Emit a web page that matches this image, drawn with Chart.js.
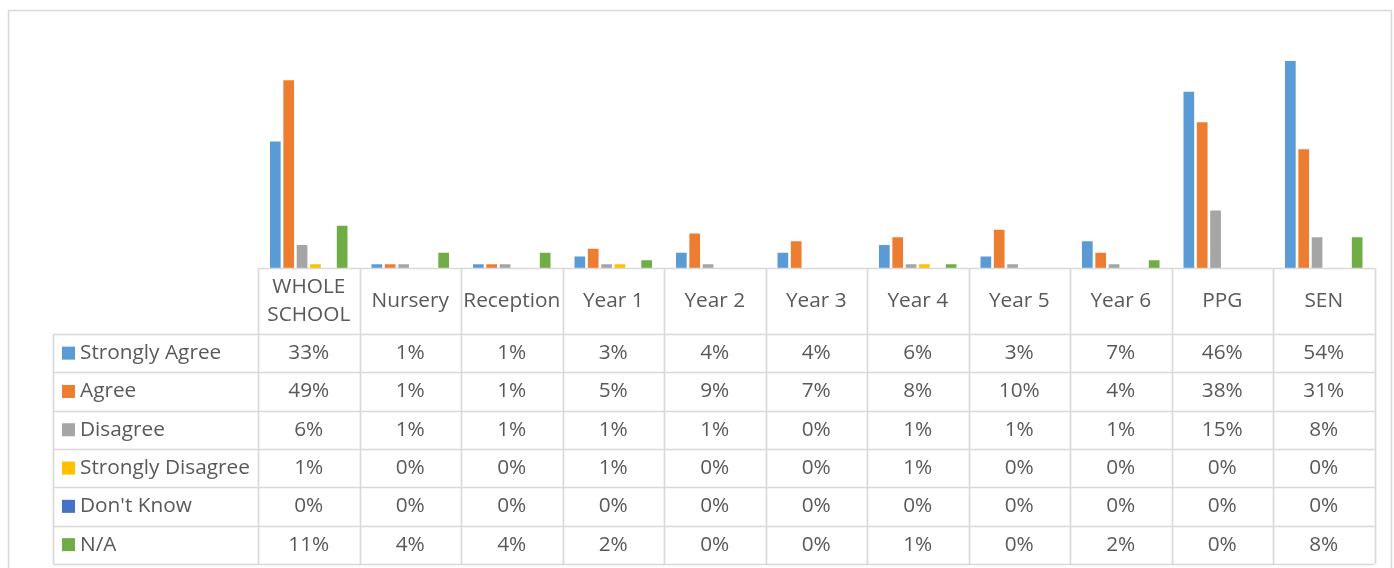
<!DOCTYPE html>
<html>
<head>
<meta charset="utf-8">
<script src="https://cdn.jsdelivr.net/npm/chart.js@4/dist/chart.umd.min.js"></script>
<style>
  html, body { margin: 0; padding: 0; background: #fff; }
  #wrap { width: 1394px; height: 568px; position: relative; }
</style>
</head>
<body>
<div id="wrap"><canvas id="chart" width="1394" height="568"></canvas></div>
<script>
const categories = ['WHOLE SCHOOL', 'Nursery', 'Reception', 'Year 1', 'Year 2', 'Year 3', 'Year 4', 'Year 5', 'Year 6', 'PPG', 'SEN'];
const seriesNames = ['Strongly Agree', 'Agree', 'Disagree', 'Strongly Disagree', "Don't Know", 'N/A'];
const stronglyAgree = [33, 1, 1, 3, 4, 4, 6, 3, 7, 46, 54];
const agree = [49, 1, 1, 5, 9, 7, 8, 10, 4, 38, 31];
const disagree = [6, 1, 1, 1, 1, 0, 1, 1, 1, 15, 8];
const stronglyDisagree = [1, 0, 0, 1, 0, 0, 1, 0, 0, 0, 0];
const dontKnow = [0, 0, 0, 0, 0, 0, 0, 0, 0, 0, 0];
const notApplicable = [11, 4, 4, 2, 0, 0, 1, 0, 2, 0, 8];

const seriesValues = [stronglyAgree, agree, disagree, stronglyDisagree, dontKnow, notApplicable];
const seriesColors = ['#5B9BD5', '#ED7D31', '#A5A5A5', '#FFC000', '#4472C4', '#70AD47'];

const FONT = '20.8px "Open Sans", sans-serif';
const TEXT = '#595959';
const GRID = '#d9d9d9';

// Draws the Excel-style data table under the plot, aligned to the x scale
const dataTable = {
    id: 'dataTable',
    afterDraw(chart) {
        const ctx = chart.ctx;
        const area = chart.chartArea;
        const x = chart.scales.x;
        const colW = (area.right - area.left) / categories.length;
        const tableLeft = 53;
        const headerTop = area.bottom;
        const headerBottom = area.bottom + 66;
        const rowH = 38.3;
        const tableBottom = headerBottom + rowH * seriesNames.length;

        ctx.save();
        // outer chart frame
        ctx.strokeStyle = GRID;
        ctx.lineWidth = 1.5;
        ctx.strokeRect(8.5, 10.5, 1383, 620);

        // grid lines
        ctx.lineWidth = 1.7;
        ctx.beginPath();
        for (let i = 0; i <= categories.length; i++) {
            const cx = Math.round(area.left + i * colW) + 0.5;
            ctx.moveTo(cx, headerTop);
            ctx.lineTo(cx, tableBottom);
        }
        ctx.moveTo(area.left, headerTop + 0.5);
        ctx.lineTo(area.right, headerTop + 0.5);
        ctx.moveTo(tableLeft + 0.5, headerBottom);
        ctx.lineTo(tableLeft + 0.5, tableBottom);
        for (let r = 0; r <= seriesNames.length; r++) {
            const ry = Math.round(headerBottom + r * rowH) + 0.5;
            ctx.moveTo(tableLeft, ry);
            ctx.lineTo(area.right, ry);
        }
        ctx.stroke();

        // header labels
        ctx.fillStyle = TEXT;
        ctx.font = FONT;
        ctx.textAlign = 'center';
        ctx.textBaseline = 'middle';
        const headerMid = (headerTop + headerBottom) / 2;
        categories.forEach((c, i) => {
            const cx = x.getPixelForValue(i);
            const w = ctx.measureText(c).width;
            if (w > colW - 6 && c.indexOf(' ') > 0) {
                const parts = c.split(' ');
                ctx.fillText(parts[0], cx, headerMid - 14);
                ctx.fillText(parts.slice(1).join(' '), cx, headerMid + 14);
            } else {
                ctx.fillText(c, cx, headerMid);
            }
        });

        // rows
        seriesNames.forEach((name, r) => {
            const my = headerBottom + r * rowH + rowH / 2;
            ctx.fillStyle = seriesColors[r];
            ctx.fillRect(62, my - 6.5, 13, 13);
            ctx.fillStyle = TEXT;
            ctx.textAlign = 'left';
            ctx.fillText(name, 80, my);
            ctx.textAlign = 'center';
            seriesValues[r].forEach((v, i) => {
                ctx.fillText(v + '%', x.getPixelForValue(i), my);
            });
        });
        ctx.restore();
    }
};

new Chart(document.getElementById('chart'), {
    type: 'bar',
    data: {
        labels: categories,
        datasets: seriesNames.map((name, i) => ({
            label: name,
            data: seriesValues[i],
            backgroundColor: seriesColors[i],
            borderWidth: 0,
            categoryPercentage: 0.79,
            barPercentage: 0.8
        }))
    },
    options: {
        responsive: false,
        animation: false,
        layout: { padding: { left: 258, right: 19.5, top: 38, bottom: 300 } },
        scales: {
            x: { display: false },
            y: { display: false, min: 0, max: 60 }
        },
        plugins: {
            legend: { display: false },
            tooltip: { enabled: false }
        }
    },
    plugins: [dataTable]
});
</script>
</body>
</html>
